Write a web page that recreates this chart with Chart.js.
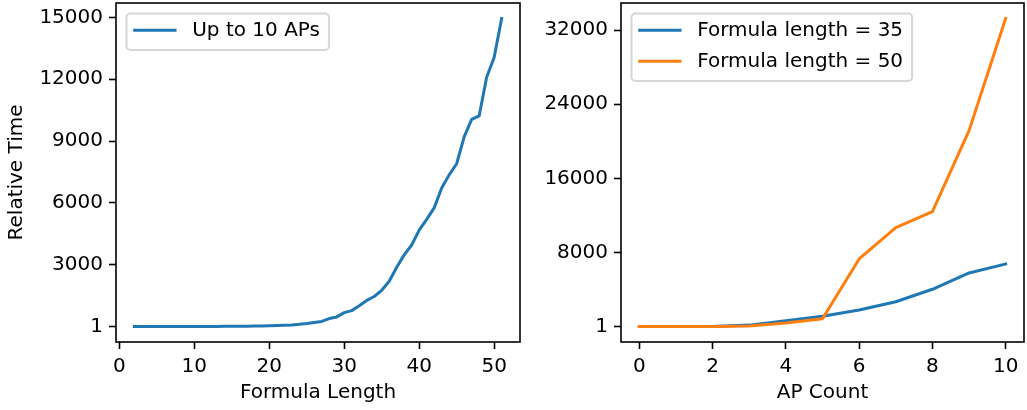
<!DOCTYPE html>
<html><head><meta charset="utf-8">
<script src="https://cdn.jsdelivr.net/npm/chart.js@4.4.1/dist/chart.umd.min.js"></script>
<style>
html,body{margin:0;padding:0;background:#fff;}
#wrap{position:relative;width:1027px;height:410px;overflow:hidden;background:#fff;}
canvas{position:absolute;top:0;}
</style></head><body>
<div id="wrap">
<canvas id="c1" width="530" height="410" style="left:0px"></canvas>
<canvas id="c2" width="497" height="410" style="left:530px"></canvas>
</div>
<script>
// ---- Data ----
const formulaLengths = [2,3,4,5,6,7,8,9,10,11,12,13,14,15,16,17,18,19,20,21,22,23,24,25,26,27,28,29,30,31,32,33,34,35,36,37,38,39,40,41,42,43,44,45,46,47,48,49,50,51];
const relTimeUpTo10 = [1,1,2,2,3,3,4,5,6,7,9,10,12,15,18,22,27,33,42,52,65,82,110,150,200,250,390,470,680,775,1010,1270,1460,1760,2200,2880,3480,3960,4680,5200,5760,6720,7360,7900,9200,10050,10220,12100,13050,14950];
const leftXTicks = [0,10,20,30,40,50];
const leftYTicks = [1,3000,6000,9000,12000,15000];

const apCounts = [0,1,2,3,4,5,6,7,8,9,10];
const relTimeLen35 = [1,1,15,160,630,1110,1800,2680,4030,5790,6760];
const relTimeLen50 = [1,1,1,70,400,850,7300,10680,12400,21150,33260];
const rightXTicks = [0,2,4,6,8,10];
const rightYTicks = [1,8000,16000,24000,32000];

const seriesLabels = ['Up to 10 APs','Formula length = 35','Formula length = 50'];
const FONT = 'DejaVu Sans';

function margins(arr){const mn=Math.min(...arr),mx=Math.max(...arr),m=(mx-mn)*0.05;return [mn-m,mx+m];}
function pts(xs,ys){return xs.map((x,i)=>({x:x,y:ys[i]}));}

function axis(horizontal, range, ticks, size, title){
  return {
    type:'linear', bounds:'data', min:range[0], max:range[1],
    afterBuildTicks:s=>{s.ticks=ticks.map(v=>({value:v}));},
    afterFit:s=>{ if(horizontal) s.height=size; else s.width=size;
      s.paddingTop=0;s.paddingBottom=0;s.paddingLeft=0;s.paddingRight=0; },
    border:{display:false},
    grid:{display:true,drawOnChartArea:false,drawTicks:true,tickLength:7,tickWidth:1.6,tickColor:'#000',color:'#000'},
    ticks:{color:'#000',font:{family:FONT,size:20},padding:6,maxRotation:0,minRotation:0,autoSkip:false,callback:v=>String(v)},
    title:{display:!!title,text:title||'',color:'#000',font:{family:FONT,size:20},padding:{top:5,bottom:5}}
  };
}

const mplPlugin = {
  id:'mplFrameLegend',
  afterDraw(chart){
    const ctx=chart.ctx, ca=chart.chartArea, ds=chart.data.datasets;
    ctx.save();
    // spines
    ctx.strokeStyle='#000'; ctx.lineWidth=1.6;
    ctx.strokeRect(ca.left,ca.top,ca.right-ca.left,ca.bottom-ca.top);
    // legend
    ctx.font='20px "'+FONT+'"';
    const textW=Math.max(...ds.map(d=>ctx.measureText(d.label).width));
    const x0=ca.left+10.5, y0=ca.top+10.5, rowH=31;
    const w=6.7+43.3+15.7+textW+9;
    const h=16.7+rowH*(ds.length-1)+19.7;
    ctx.beginPath();
    if(ctx.roundRect) ctx.roundRect(x0,y0,w,h,4); else ctx.rect(x0,y0,w,h);
    ctx.fillStyle='rgba(255,255,255,0.8)'; ctx.fill();
    ctx.strokeStyle='#d6d6d6'; ctx.lineWidth=2; ctx.stroke();
    ds.forEach((d,i)=>{
      const y=y0+16.7+i*rowH;
      ctx.beginPath(); ctx.moveTo(x0+6.7,y); ctx.lineTo(x0+50,y);
      ctx.strokeStyle=d.borderColor; ctx.lineWidth=3; ctx.lineCap='butt'; ctx.stroke();
      ctx.fillStyle='#000'; ctx.textBaseline='middle'; ctx.textAlign='left';
      ctx.fillText(d.label,x0+65.7,y+1);
    });
    ctx.restore();
  }
};

const lineDs=(label,data,color,order)=>({label,data,order,borderColor:color,backgroundColor:color,borderWidth:3,pointRadius:0,pointHoverRadius:0,tension:0,fill:false,borderJoinStyle:'round',borderCapStyle:'square'});

const common = {
  responsive:false, animation:false, devicePixelRatio:1,
  plugins:{legend:{display:false},tooltip:{enabled:false}},
  events:[]
};

new Chart(document.getElementById('c1'),{
  type:'line',
  data:{datasets:[lineDs(seriesLabels[0],pts(formulaLengths,relTimeUpTo10),'#1f77b4',0)]},
  options:Object.assign({},common,{
    layout:{padding:{left:0,top:3,right:10,bottom:0}},
    scales:{
      x:axis(true,margins(formulaLengths),leftXTicks,68,'Formula Length'),
      y:axis(false,margins(relTimeUpTo10),leftYTicks,116,'Relative Time')
    }
  }),
  plugins:[mplPlugin]
});

new Chart(document.getElementById('c2'),{
  type:'line',
  data:{datasets:[
    lineDs(seriesLabels[1],pts(apCounts,relTimeLen35),'#1f77b4',1),
    lineDs(seriesLabels[2],pts(apCounts,relTimeLen50),'#ff7f0e',0)
  ]},
  options:Object.assign({},common,{
    layout:{padding:{left:0,top:3,right:3,bottom:0}},
    scales:{
      x:axis(true,margins(apCounts),rightXTicks,68,'AP Count'),
      y:axis(false,margins(relTimeLen35.concat(relTimeLen50)),rightYTicks,91,null)
    }
  }),
  plugins:[mplPlugin]
});
</script>
</body></html>
